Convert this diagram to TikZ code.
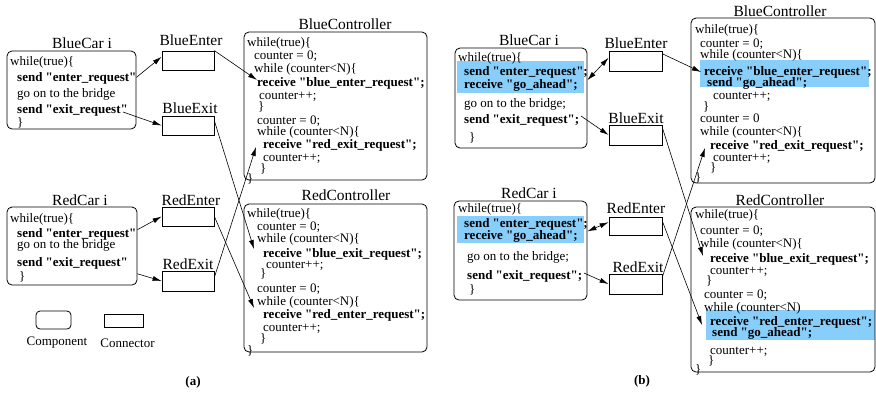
\documentclass[tikz,border=0pt]{standalone}
\usepackage{fontspec}
\setmainfont{Liberation Serif}[Ligatures=TeXOff]
\usetikzlibrary{arrows.meta}
\definecolor{hlblue}{RGB}{135,206,250}
\begin{document}
\begin{tikzpicture}[x=1pt, y=-1pt,
    comp/.style={draw, rounded corners=5pt, line width=0.8pt, inner sep=0pt},
    conn/.style={draw, line width=0.8pt, inner sep=0pt},
    lbl/.style={font=\fontsize{15.5}{15.5}\selectfont, anchor=base, inner sep=0pt},
    legend/.style={font=\fontsize{13}{13}\selectfont, inner sep=0pt},
    code/.style={font=\fontsize{13}{13.3}\selectfont, align=left, anchor=north west, inner sep=0pt},
    hl/.style={fill=hlblue},
    wire/.style={line width=0.6pt, -{Latex[length=9pt,width=5pt]}},
    dwire/.style={line width=0.6pt, {Latex[length=9pt,width=5pt]}-{Latex[length=9pt,width=5pt]}}]
  \useasboundingbox (0,0) rectangle (876,392);

  % highlighted lines of (b)
  \fill[hl] (457,61) rectangle (584,93);
  \fill[hl] (457,216) rectangle (584,243);
  \fill[hl] (700,60) rectangle (869,87);
  \fill[hl] (706,310) rectangle (875,340);

  % (a): components and connectors
  \draw
    (71.5,90) node[comp, minimum width=129pt, minimum height=78pt] (bluecarA) {}
    (188,60.5) node[conn, minimum width=52pt, minimum height=19pt] (blueenterA) {}
    (188,125.5) node[conn, minimum width=52pt, minimum height=19pt] (blueexitA) {}
    (72,246) node[comp, minimum width=130pt, minimum height=78pt] (redcarA) {}
    (188,216.5) node[conn, minimum width=52pt, minimum height=19pt] (redenterA) {}
    (188,281) node[conn, minimum width=52pt, minimum height=20pt] (redexitA) {}
    (335.5,106) node[comp, minimum width=183pt, minimum height=148pt] (bluectrlA) {}
    (335.5,278) node[comp, minimum width=183pt, minimum height=148pt] (redctrlA) {}
    (53.5,320) node[comp, rounded corners=4pt, minimum width=35pt, minimum height=18pt] (legcomp) {}
    (123.5,320.5) node[conn, minimum width=39pt, minimum height=13pt] (legconn) {};

  % (b): components and connectors
  \draw
    (521,98) node[comp, minimum width=132pt, minimum height=100pt] (bluecarB) {}
    (635.5,61) node[conn, minimum width=53pt, minimum height=20pt] (blueenterB) {}
    (635.5,135) node[conn, minimum width=53pt, minimum height=20pt] (blueexitB) {}
    (520.5,250.5) node[comp, minimum width=133pt, minimum height=99pt] (redcarB) {}
    (635.5,226) node[conn, minimum width=53pt, minimum height=18pt] (redenterB) {}
    (635.5,284) node[conn, minimum width=53pt, minimum height=20pt] (redexitB) {}
    (783,100.5) node[comp, minimum width=184pt, minimum height=165pt] (bluectrlB) {}
    (783,289.5) node[comp, minimum width=184pt, minimum height=165pt] (redctrlB) {};

  % names
  \draw
    (82,48) node[lbl] (bluecarAname) {BlueCar i}
    (191,45) node[lbl] (blueenterAname) {BlueEnter}
    (190,113) node[lbl] (blueexitAname) {BlueExit}
    (80,205) node[lbl] (redcarAname) {RedCar i}
    (191,205) node[lbl] (redenterAname) {RedEnter}
    (188,269) node[lbl] (redexitAname) {RedExit}
    (345,29) node[lbl] (bluectrlAname) {BlueController}
    (346,200) node[lbl] (redctrlAname) {RedController}
    (529,45) node[lbl] (bluecarBname) {BlueCar i}
    (636,48) node[lbl] (blueenterBname) {BlueEnter}
    (636,123) node[lbl] (blueexitBname) {BlueExit}
    (529,198) node[lbl] (redcarBname) {RedCar i}
    (636,213) node[lbl] (redenterBname) {RedEnter}
    (638,272) node[lbl] (redexitBname) {RedExit}
    (780,16) node[lbl] (bluectrlBname) {BlueController}
    (780,205) node[lbl] (redctrlBname) {RedController}
    (57,343) node[legend] (legcompname) {Component}
    (127.5,343) node[legend] (legconnname) {Connector}
    (193,382) node[legend, font=\fontsize{13}{13}\selectfont\bfseries] (capA) {(a)}
    (642,381) node[legend, font=\fontsize{13}{13}\selectfont\bfseries] (capB) {(b)};

  % code of (a)
  \draw
    (10,56.5) node[code, font=\fontsize{13}{16}\selectfont] (bluecarAcode) {while(true)\{\\
      \hspace*{7pt}\textbf{send "enter\_request"}\\
      \hspace*{7pt}go on to the bridge\\
      \hspace*{7pt}\textbf{send "exit\_request"}\\[-3pt]
      \hspace*{7pt}\}}
    (10,213.5) node[code, font=\fontsize{13}{14.5}\selectfont] (redcarAcode) {while(true)\{\\
      \hspace*{7pt}\textbf{send "enter\_request"}\\[-3pt]
      \hspace*{7pt}go on to the bridge\\[3pt]
      \hspace*{7pt}\textbf{send "exit\_request"}\\
      \hspace*{9pt}\}}
    (247,37) node[code] (bluectrlAcode) {while(true)\{\\
      \hspace*{7pt}counter = 0;\\
      \hspace*{7pt}while (counter<N)\{\\
      \hspace*{10pt}\textbf{receive "blue\_enter\_request";}\\
      \hspace*{12pt}counter++;\\[-2pt]
      \hspace*{11pt}\}\\
      \hspace*{10pt}counter = 0;\\[-2pt]
      \hspace*{10pt}while (counter<N)\{\\
      \hspace*{16pt}\textbf{receive "red\_exit\_request";}\\
      \hspace*{16pt}counter++;\\[-3pt]
      \hspace*{13pt}\}\\[-3pt]
      \}}
    (247,208) node[code] (redctrlAcode) {while(true)\{\\
      \hspace*{10pt}counter = 0;\\[-1pt]
      \hspace*{10pt}while (counter<N)\{\\[1pt]
      \hspace*{16pt}\textbf{receive "blue\_exit\_request";}\\[-2pt]
      \hspace*{19pt}counter++;\\[-4pt]
      \hspace*{13pt}\}\\[1pt]
      \hspace*{10pt}counter = 0;\\
      \hspace*{10pt}while (counter<N)\{\\
      \hspace*{16pt}\textbf{receive "red\_enter\_request";}\\
      \hspace*{16pt}counter++;\\[-3pt]
      \hspace*{13pt}\}\\[-1pt]
      \}};

  % code of (b)
  \draw
    (458,52.5) node[code] (bluecarBcode) {while(true)\{\\
      \hspace*{6pt}\textbf{send "enter\_request";}\\
      \hspace*{6pt}\textbf{receive "go\_ahead";}\\[6pt]
      \hspace*{6pt}go on to the bridge;\\[3pt]
      \hspace*{6pt}\textbf{send "exit\_request";}\\[4pt]
      \hspace*{11pt}\}}
    (458,203.5) node[code] (redcarBcode) {while(true)\{\\[1pt]
      \hspace*{6pt}\textbf{send "enter\_request";}\\[-1pt]
      \hspace*{6pt}\textbf{receive "go\_ahead";}\\[8pt]
      \hspace*{9pt}go on to the bridge;\\[6pt]
      \hspace*{9pt}\textbf{send "exit\_request";}\\
      \hspace*{11pt}\}}
    (695,24) node[code] (bluectrlBcode) {while(true)\{\\[1pt]
      \hspace*{5pt}counter = 0;\\[-2pt]
      \hspace*{5pt}while (counter<N)\{\\[3pt]
      \hspace*{9pt}\textbf{receive "blue\_enter\_request";}\\[-2pt]
      \hspace*{12pt}\textbf{send "go\_ahead";}\\
      \hspace*{18pt}counter++;\\[-3pt]
      \hspace*{8pt}\}\\[-1pt]
      \hspace*{5pt}counter = 0\\
      \hspace*{5pt}while (counter<N)\{\\[1pt]
      \hspace*{15pt}\textbf{receive "red\_exit\_request";}\\[-2pt]
      \hspace*{18pt}counter++;\\[-3pt]
      \hspace*{15pt}\}\\[-3pt]
      \}}
    (695,209) node[code] (redctrlBcode) {while(true)\{\\[3pt]
      \hspace*{5pt}counter = 0;\\
      \hspace*{5pt}while (counter<N)\{\\[1pt]
      \hspace*{15pt}\textbf{receive "blue\_exit\_request";}\\[-1pt]
      \hspace*{15pt}counter++;\\[-3pt]
      \hspace*{11pt}\}\\
      \hspace*{9pt}counter = 0;\\
      \hspace*{9pt}while (counter<N)\\[1pt]
      \hspace*{15pt}\textbf{receive "red\_enter\_request";}\\[-2pt]
      \hspace*{17pt}\textbf{send "go\_ahead";}\\[4pt]
      \hspace*{15pt}counter++;\\[-3pt]
      \hspace*{13pt}\}\\[-4pt]
      \}};

  % ends of connectors
  \coordinate (bluecarAexit) at (123,112);
  \coordinate (bluectrlAin1) at (257,80);
  \coordinate (bluectrlAin2) at (256,147);
  \coordinate (redctrlAin1) at (254,249);
  \coordinate (redctrlAin2) at (254,308);
  \coordinate (bluecarBexit) at (581,116);
  \coordinate (redcarBexit) at (584,273);
  \coordinate (bluectrlBin1) at (701,72);
  \coordinate (bluectrlBin2) at (705,148);
  \coordinate (redctrlBin1) at (703,256);
  \coordinate (redctrlBin2) at (702,325);

  \begin{scope}[wire]
    \draw (bluecarA.11) to (blueenterA.172);
    \draw (bluecarAexit) to (blueexitA.west);
    \draw (redcarA.14) to (redenterA.west);
    \draw (redcarA.-23) to (redexitA.west);
    \draw (blueenterA.north east) to (bluectrlAin1);
    \draw (blueexitA.10) to (redctrlAin1);
    \draw (redenterA.east) to (redctrlAin2);
    \draw (redexitA.8) to (bluectrlAin2);
    \draw (bluecarBexit) to (blueexitB.west);
    \draw (redcarBexit) to (redexitB.west);
    \draw (blueenterB.15) to (bluectrlBin1);
    \draw (blueexitB.15) to (redctrlBin1);
    \draw (redenterB.10) to (redctrlBin2);
    \draw (redexitB.15) to (bluectrlBin2);
  \end{scope}
  \begin{scope}[dwire]
    \draw (bluecarB.15) to (blueenterB.173);
    \draw (redcarB.16) to (redenterB.172);
  \end{scope}
\end{tikzpicture}
\end{document}
